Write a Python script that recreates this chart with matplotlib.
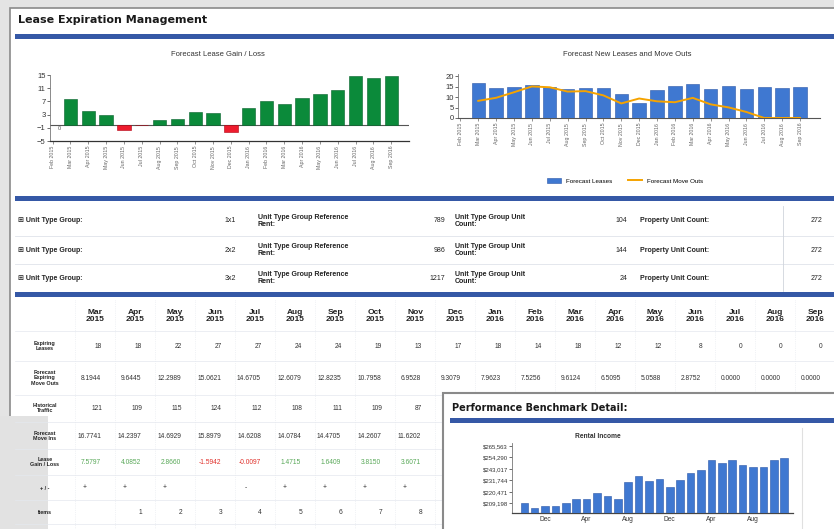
import numpy as np
import matplotlib.pyplot as plt
from matplotlib.patches import Rectangle
from matplotlib.lines import Line2D

plt.rcParams['font.family'] = ['Liberation Sans', 'DejaVu Sans']

# ---- data ----
months = ['Feb 2015', 'Mar 2015', 'Apr 2015', 'May 2015', 'Jun 2015', 'Jul 2015',
          'Aug 2015', 'Sep 2015', 'Oct 2015', 'Nov 2015', 'Dec 2015', 'Jan 2016',
          'Feb 2016', 'Mar 2016', 'Apr 2016', 'May 2016', 'Jun 2016', 'Jul 2016',
          'Aug 2016', 'Sep 2016']
gain_loss = [np.nan, 7.5797, 4.0852, 2.8660, -1.5942, -0.0097, 1.4715, 1.6409, 3.8150,
             3.6071, -2.4, 4.9, 7.0, 6.1, 7.9, 9.2, 10.6, 14.6, 14.1, 14.6]
new_leases = [np.nan, 16.7741, 14.2397, 14.6929, 15.8979, 14.6208, 14.0784, 14.4705,
              14.2607, 11.6202, 7.2, 13.3, 15.1, 16.3, 14.0, 15.5, 14.0, 14.7, 14.3, 14.7]
move_outs = [np.nan, 8.1944, 9.6445, 12.2989, 15.0621, 14.6705, 12.6079, 12.8235,
             10.7958, 6.9528, 9.3079, 7.9623, 7.5256, 9.6124, 6.5095, 5.0588, 2.8752,
             0.0, 0.0, 0.0]

unit_types = ['1x1', '2x2', '3x2']
ref_rent = [789, 986, 1217]
unit_count = [104, 144, 24]
property_units = [272, 272, 272]

expiring_leases = [18, 18, 22, 27, 27, 24, 24, 19, 13, 17, 18, 14, 18, 12, 12, 8, 0, 0, 0]
historical_traffic = [121, 109, 115, 124, 112, 108, 111, 109, 87]
plus_minus = ['+', '+', '+', '', '-', '+', '+', '+', '+']
items = ['', '1', '2', '3', '4', '5', '6', '7', '8']

rental_months = ['Oct', 'Nov', 'Dec', 'Jan', 'Feb', 'Mar', 'Apr', 'May', 'Jun', 'Jul',
                 'Aug', 'Sep', 'Oct', 'Nov', 'Dec', 'Jan', 'Feb', 'Mar', 'Apr', 'May',
                 'Jun', 'Jul', 'Aug', 'Sep', 'Oct', 'Nov']
rental_income = [209900, 204900, 206200, 206200, 209900, 213800, 213800, 218800, 216100,
                 212900, 230300, 235900, 231000, 232600, 225300, 231900, 238600, 241800,
                 251700, 248500, 251700, 246800, 245100, 245100, 251700, 253400]
rental_ticks = [209198, 220471, 231744, 243017, 254290, 265563]

GREEN = '#0b8a3a'
RED = '#ee1c2e'
BLUE = '#3f78d1'
ORANGE = '#f5a300'
BAND = '#3558a6'
TXT = '#222222'

W, H = 834, 529
fig = plt.figure(figsize=(W / 100, H / 100), dpi=100, facecolor='#e4e4e4')

bg = fig.add_axes([0, 0, 1, 1])
bg.set_xlim(0, W)
bg.set_ylim(H, 0)
bg.axis('off')


def px_axes(x, y, w, h):
    a = fig.add_axes([x / W, 1 - (y + h) / H, w / W, h / H])
    a.set_facecolor('none')
    return a


def band(x, y, w, h=5):
    bg.add_patch(Rectangle((x, y), w, h, facecolor=BAND, edgecolor='none', zorder=2))


# main panel
bg.add_patch(Rectangle((10, 8), 840, 540, facecolor='white', edgecolor='#8a8a8a', lw=1.2, zorder=0))
bg.add_patch(Rectangle((0, 416), 48, 120, facecolor='#e2e2e2', edgecolor='none', zorder=1))
bg.text(18, 20, 'Lease Expiration Management', fontsize=8, fontweight='bold',
        family='DejaVu Sans', color='#1a1a1a', va='center')
band(15, 34, 830)

# ---- Forecast Lease Gain / Loss ----
x = np.arange(len(months))
ax1 = px_axes(50, 75, 359, 66)
ax1.bar(x, gain_loss, width=0.75,
        color=[RED if v < 0 else GREEN for v in np.nan_to_num(gain_loss)],
        edgecolor=[('#b00010' if v < 0 else '#05602a') for v in np.nan_to_num(gain_loss)],
        lw=0.4, zorder=3)
ax1.axhline(0, color='#555555', lw=0.8, zorder=2)
ax1.text(0.3, -0.5, '0', fontsize=4, color='#555555', va='top')
ax1.set_xlim(-0.15, 20.0)
ax1.set_ylim(-5, 15)
ax1.set_yticks([-5, -1, 3, 7, 11, 15])
ax1.set_xticks(x)
ax1.set_xticklabels(months, rotation=90, fontsize=3.8, color='#444444')
ax1.tick_params(axis='y', labelsize=5.5, length=2, width=0.5, pad=1, colors='#333333')
ax1.tick_params(axis='x', length=2, width=0.5, pad=1.5, colors='#666666')
for s in ['top', 'right']:
    ax1.spines[s].set_visible(False)
ax1.spines['left'].set_color('#777777')
ax1.spines['left'].set_linewidth(0.6)
ax1.spines['bottom'].set_color('#333333')
ax1.spines['bottom'].set_linewidth(0.9)
bg.text(218, 55, 'Forecast Lease Gain / Loss', fontsize=5.5, color='#333333',
        ha='center', va='center')

# ---- Forecast New Leases and Move Outs ----
ax2 = px_axes(457.7, 74, 362, 44)
ax2.bar(x, new_leases, width=0.75, color=BLUE, edgecolor='#2a56a8', lw=0.4, zorder=3)
ax2.plot(x, move_outs, color=ORANGE, lw=1.4, zorder=4)
ax2.set_xlim(-0.15, 20.1)
ax2.set_ylim(0, 21)
ax2.set_yticks([0, 5, 10, 15, 20])
ax2.set_xticks(x)
ax2.set_xticklabels(months, rotation=90, fontsize=3.8, color='#444444')
ax2.tick_params(axis='y', labelsize=5.5, length=2, width=0.5, pad=1, colors='#333333')
ax2.tick_params(axis='x', length=2, width=0.5, pad=1.5, colors='#666666')
for s in ['top', 'right']:
    ax2.spines[s].set_visible(False)
ax2.spines['left'].set_color('#777777')
ax2.spines['left'].set_linewidth(0.6)
ax2.spines['bottom'].set_color('#555555')
ax2.spines['bottom'].set_linewidth(0.8)
bg.text(627, 55, 'Forecast New Leases and Move Outs', fontsize=5.5, color='#333333',
        ha='center', va='center')
handles = [Rectangle((0, 0), 1, 1, facecolor=BLUE, edgecolor='#2a56a8', lw=0.4),
           Line2D([0], [0], color=ORANGE, lw=1.4)]
fig.legend(handles, ['Forecast Leases', 'Forecast Move Outs'], loc='center',
           bbox_to_anchor=(625 / W, 1 - 181 / H), ncol=2, frameon=False,
           fontsize=4.5, handlelength=2.2, handleheight=0.8, columnspacing=2.5)

# ---- unit type group rows ----
band(15, 196, 830)
row_y = [221, 250, 278]
for i in range(len(unit_types)):
    y = row_y[i]
    bg.text(18, y, '\u229e Unit Type Group:', fontsize=5, fontweight='bold', color=TXT, va='center')
    bg.text(236, y, unit_types[i], fontsize=5, color=TXT, va='center', ha='right')
    bg.text(258, y, 'Unit Type Group Reference\nRent:', fontsize=5, fontweight='bold',
            color=TXT, va='center', linespacing=1.1)
    bg.text(445, y, str(ref_rent[i]), fontsize=5, color=TXT, va='center', ha='right')
    bg.text(455, y, 'Unit Type Group Unit\nCount:', fontsize=5, fontweight='bold',
            color=TXT, va='center', linespacing=1.1)
    bg.text(627, y, str(unit_count[i]), fontsize=5, color=TXT, va='center', ha='right')
    bg.text(640, y, 'Property Unit Count:', fontsize=5, fontweight='bold', color=TXT, va='center')
    bg.text(822, y, str(property_units[i]), fontsize=5, color=TXT, va='center', ha='right')
for y in [236, 264]:
    bg.plot([15, 834], [y, y], color='#dfe3ea', lw=0.6, zorder=1)
bg.plot([783, 783], [206, 291], color='#d0d4dc', lw=0.6, zorder=1)

# ---- forecast table ----
band(15, 292, 830)
col_x = [95 + 40 * i for i in range(len(months) - 1)]
head_y = 316
row_labels = ['Expiring\nLeases', 'Forecast\nExpiring\nMove Outs', 'Historical\nTraffic',
              'Forecast\nMove Ins', 'Lease\nGain / Loss', '+ / -', 'Items']
row_pos = [346, 378, 408, 436, 462, 488, 512]
for c, m in zip(col_x, months[1:]):
    mon, yr = m.split()
    bg.text(c, head_y, mon + '\n' + yr, fontsize=6, fontweight='bold', color=TXT,
            ha='center', va='center', linespacing=0.95)
    bg.plot([c + 20, c + 20], [300, 529], color='#e4e8ee', lw=0.5, ls=':', zorder=1)
bg.plot([75, 75], [300, 529], color='#e4e8ee', lw=0.5, ls=':', zorder=1)
for lab, y in zip(row_labels, row_pos):
    bg.text(45, y, lab, fontsize=3.9, fontweight='bold', color=TXT, ha='center',
            va='center', linespacing=1.05, zorder=3)
for y in [331, 361, 395, 422, 449, 475, 500, 524]:
    bg.plot([15, 834], [y, y], color='#e4e8ee', lw=0.5, zorder=1)

val_kw = dict(fontsize=4.8, color='#333333', ha='right', va='center')
for i, c in enumerate(col_x):
    bg.text(c + 7, row_pos[0], str(expiring_leases[i]), **val_kw)
    bg.text(c + 6, row_pos[1], '%.4f' % move_outs[i + 1], **val_kw)
for i in range(len(historical_traffic)):
    c = col_x[i]
    bg.text(c + 7, row_pos[2], str(historical_traffic[i]), **val_kw)
    bg.text(c + 6, row_pos[3], '%.4f' % new_leases[i + 1], **val_kw)
    g = gain_loss[i + 1]
    bg.text(c + 6, row_pos[4], '%.4f' % g, fontsize=4.8, ha='right', va='center',
            color='#e0302a' if g < 0 else '#58a858')
    bg.text(c - 8, row_pos[5], plus_minus[i], **val_kw)
    bg.text(c + 7, row_pos[6], items[i], **val_kw)

# ---- Performance Benchmark Detail overlay ----
bg.add_patch(Rectangle((443, 393), 420, 150, facecolor='white', edgecolor='#8a8a8a',
                       lw=1.5, zorder=5))
bg.text(452, 408, 'Performance Benchmark Detail:', fontsize=7, fontweight='bold',
        family='DejaVu Sans', color='#1a1a1a', va='center', zorder=6)
bg.add_patch(Rectangle((450, 418), 400, 5, facecolor=BAND, edgecolor='none', zorder=6))
bg.text(598, 437, 'Rental Income', fontsize=4.8, fontweight='bold', color='#333333',
        ha='center', va='center', zorder=6)
bg.plot([802, 802], [428, 529], color='#e0e0e0', lw=0.8, zorder=6)

ax3 = px_axes(512.3, 443, 280.7, 70)
ax3.set_zorder(7)
rx = np.arange(len(rental_income))
ax3.bar(rx, rental_income, width=0.72, color=BLUE, edgecolor='#2a56a8', lw=0.4, zorder=3)
ax3.set_xlim(-1.15, 25.85)
ax3.set_ylim(199600, 268500)
ax3.set_yticks(rental_ticks)
ax3.set_yticklabels(['$%s' % format(t, ',') for t in rental_ticks])
show = [i for i, m in enumerate(rental_months) if m in ('Dec', 'Apr', 'Aug')]
ax3.set_xticks(show)
ax3.set_xticklabels([rental_months[i] for i in show], fontsize=4.8, color='#333333')
ax3.tick_params(axis='y', labelsize=4.3, length=2, width=0.5, pad=1, colors='#333333')
ax3.tick_params(axis='x', length=0, pad=2)
for s in ['top', 'right']:
    ax3.spines[s].set_visible(False)
ax3.spines['left'].set_color('#777777')
ax3.spines['left'].set_linewidth(0.6)
ax3.spines['bottom'].set_color('#444444')
ax3.spines['bottom'].set_linewidth(0.9)

fig.savefig('out.png', dpi=100, facecolor=fig.get_facecolor())
